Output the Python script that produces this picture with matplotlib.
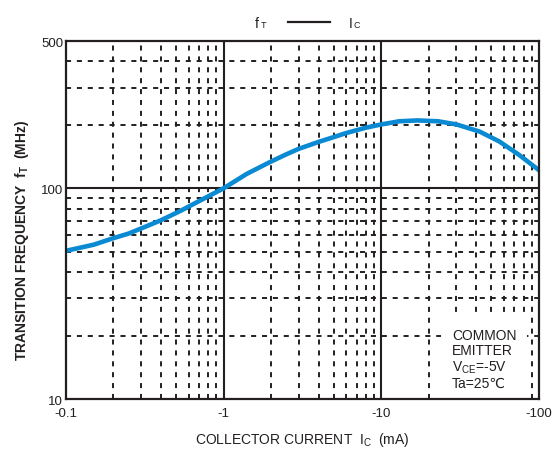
import numpy as np
import matplotlib
matplotlib.use("Agg")
import matplotlib.pyplot as plt
from matplotlib.lines import Line2D

plt.rcParams['font.family'] = ['Liberation Sans', 'DejaVu Sans']
plt.rcParams['mathtext.fontset'] = 'custom'
plt.rcParams['mathtext.rm'] = 'Liberation Sans'
plt.rcParams['mathtext.bf'] = 'Liberation Sans:bold'

# data (collector current in mA, magnitude)
ic_ma = [0.1, 0.15, 0.2, 0.25, 0.3, 0.4, 0.53, 0.7, 1, 1.4, 1.7, 2, 2.5, 3,
         4, 5, 6, 8, 10, 13, 17, 23, 30, 42, 56, 75, 100]
ft_mhz = [50.5, 54, 58, 61, 64.5, 70.5, 78, 87, 100, 117, 126, 134, 145, 154,
          166, 175, 183, 194, 201, 208, 210, 208, 201, 186, 167, 144, 122]

x_ticks = [0.1, 1, 10, 100]
x_ticklabels = ['-0.1', '-1', '-10', '-100']
y_ticks = [10, 100, 500]
y_ticklabels = ['10', '100', '500']
y_dashed = [20, 30, 40, 50, 60, 70, 80, 90, 200, 300, 400]

ink = '#231f20'
blue = '#0a8ad2'
dash = (0, (2.6, 3.0))

fig = plt.figure(figsize=(5.59, 4.52), dpi=100)
ax = fig.add_axes([0.118, 0.115, 0.846, 0.792])
ax.set_xscale('log')
ax.set_yscale('log')
ax.set_xlim(0.1, 100)
ax.set_ylim(10, 500)

# dashed minor grid
for dec in [0.1, 1, 10]:
    for m in range(2, 10):
        ax.axvline(dec * m, color=ink, lw=1.4, ls=dash, zorder=1)
for v in y_dashed:
    ax.axhline(v, color=ink, lw=1.4, ls=dash, zorder=1)
# solid major lines
for v in [1, 10]:
    ax.axvline(v, color=ink, lw=1.5, zorder=2)
ax.axhline(100, color=ink, lw=1.5, zorder=2)

ax.plot(ic_ma, ft_mhz, color=blue, lw=3.3, solid_joinstyle='round', zorder=4)

ax.set_xticks(x_ticks)
ax.set_xticklabels(x_ticklabels)
ax.set_yticks(y_ticks)
ax.set_yticklabels(y_ticklabels)
ax.xaxis.set_minor_locator(matplotlib.ticker.NullLocator())
ax.yaxis.set_minor_locator(matplotlib.ticker.NullLocator())
ax.tick_params(axis='both', length=0, labelsize=9.5, colors=ink)
ax.tick_params(axis='x', pad=6)
ax.tick_params(axis='y', pad=2)
for s in ax.spines.values():
    s.set_linewidth(1.6)
    s.set_color(ink)
    s.set_zorder(5)

ax.set_xlabel('COLLECTOR CURRENT  I$_{\\mathrm{C}}$  (mA)', fontsize=10,
              color=ink, labelpad=8)
fig.text(0.040, 0.469, 'TRANSITION FREQUENCY  f$_{\\mathbf{T}}$  (MHz)',
         rotation=90, fontsize=10, fontweight='bold', color=ink,
         ha='center', va='center')

ax.text(0.816, 0.198, 'COMMON\nEMITTER\nV$_{\\mathrm{CE}}$=-5V\nTa=25\u2103',
        transform=ax.transAxes, fontsize=10, color=ink, ha='left', va='top',
        linespacing=1.1, zorder=3,
        bbox=dict(facecolor='white', edgecolor='none', pad=8))

# header key
fig.text(0.456, 0.938, 'f', fontsize=10, color=ink, ha='left', va='baseline')
fig.text(0.466, 0.938, 'T', fontsize=6.5, color=ink, ha='left', va='baseline')
fig.add_artist(Line2D([0.515, 0.590], [0.949, 0.949], color=ink, lw=1.6,
                      transform=fig.transFigure))
fig.text(0.624, 0.938, 'I', fontsize=10, color=ink, ha='left', va='baseline')
fig.text(0.632, 0.938, 'C', fontsize=6.5, color=ink, ha='left', va='baseline')

fig.savefig('out.png', dpi=100)
